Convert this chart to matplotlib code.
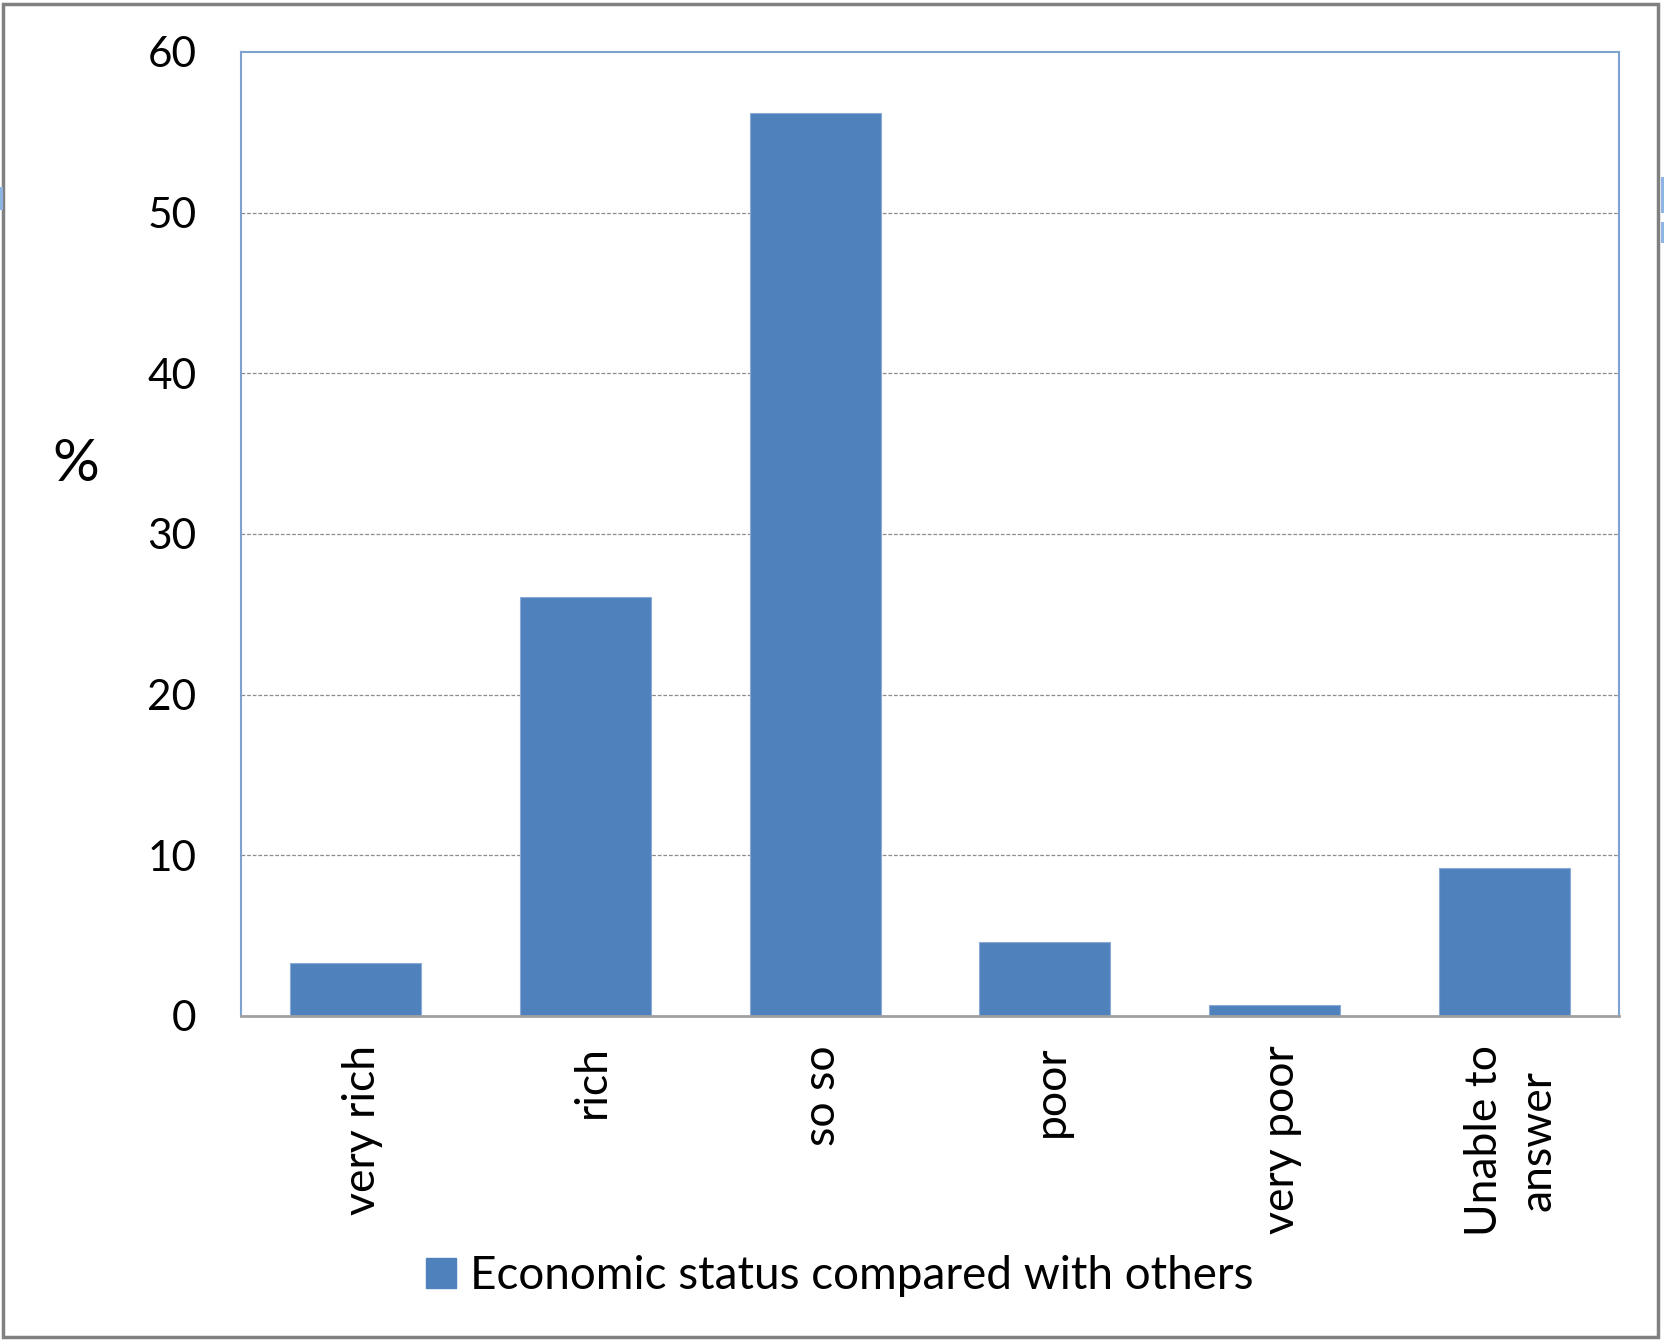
import matplotlib
matplotlib.use('Agg')
import matplotlib.pyplot as plt
import matplotlib.patches as mpatches
import matplotlib.transforms as mtransforms
import numpy as np

# Dati: status economico rispetto agli altri (%)
categories = ['very rich', 'rich', 'so so', 'poor', 'very poor', 'Unable to\nanswer']
values = [3.3, 26.1, 56.2, 4.6, 0.7, 9.2]
series_name = 'Economic status compared with others'
y_ticks = [0, 10, 20, 30, 40, 50, 60]

bar_color = '#4F81BD'
frame_blue = '#7DA2D0'

plt.rcParams['font.family'] = ['Lato', 'DejaVu Sans']

fig = plt.figure(figsize=(16.65, 13.4), dpi=100)
ax = fig.add_axes([0.1447, 0.2418, 0.8277, 0.7194])

x = np.arange(len(categories))
ax.bar(x, values, width=0.57, color=bar_color, edgecolor='#8BAAD6', linewidth=0.8,
       label=series_name, zorder=3)

ax.set_xlim(-0.5, len(categories) - 0.5)
ax.set_ylim(0, 60)
ax.set_yticks(y_ticks)
ax.set_yticklabels([str(t) for t in y_ticks], fontsize=30.5)
ax.set_xticks(x)
ax.set_xticklabels(categories, rotation=90, fontsize=32, ha='center', va='top',
                   multialignment='center', linespacing=1.4)
ax.tick_params(axis='y', length=0, pad=32)
ax.tick_params(axis='x', length=0, pad=21)

# etichette categorie leggermente spostate a destra
shift = mtransforms.ScaledTranslation(7 / 100, 0, fig.dpi_scale_trans)
for lbl in ax.get_xticklabels():
    lbl.set_transform(lbl.get_transform() + shift)

# griglia tratteggiata grigia
for t in y_ticks[1:-1]:
    ax.axhline(t, color='#8C8C8C', linestyle=(0, (3, 1.5)), linewidth=0.9, zorder=1)

for side in ['top', 'left', 'right']:
    ax.spines[side].set_color(frame_blue)
    ax.spines[side].set_linewidth(1.5)
ax.spines['bottom'].set_color('#A0A0A0')
ax.spines['bottom'].set_linewidth(2)
ax.spines['bottom'].set_zorder(4)

fig.text(76 / 1665, 1 - 465 / 1340, '%', fontsize=42, ha='center', va='center')

blue = mpatches.Patch(color=bar_color, label=series_name)
fig.legend(handles=[blue], loc='center', bbox_to_anchor=(840 / 1665, 1 - 1276 / 1340),
           frameon=False, fontsize=33, handlelength=0.65, handleheight=0.65,
           handletextpad=0.3)

# cornice esterna grigia
fig.patches.append(mpatches.Rectangle((3 / 1665, 3 / 1340), 1655 / 1665, 1333 / 1340,
                                      transform=fig.transFigure, fill=False,
                                      edgecolor='#808080', linewidth=2.5))
# maniglie azzurre ai bordi
fig.patches.append(mpatches.Rectangle((0, 1 - 210 / 1340), 3 / 1665, 23 / 1340,
                                      transform=fig.transFigure, color='#8DB4E2', lw=0))
fig.patches.append(mpatches.Rectangle((1661 / 1665, 1 - 213 / 1340), 4 / 1665, 36 / 1340,
                                      transform=fig.transFigure, color='#8DB4E2', lw=0))
fig.patches.append(mpatches.Rectangle((1661 / 1665, 1 - 243 / 1340), 4 / 1665, 21 / 1340,
                                      transform=fig.transFigure, color='#8DB4E2', lw=0))

fig.savefig('out.png', dpi=100)
